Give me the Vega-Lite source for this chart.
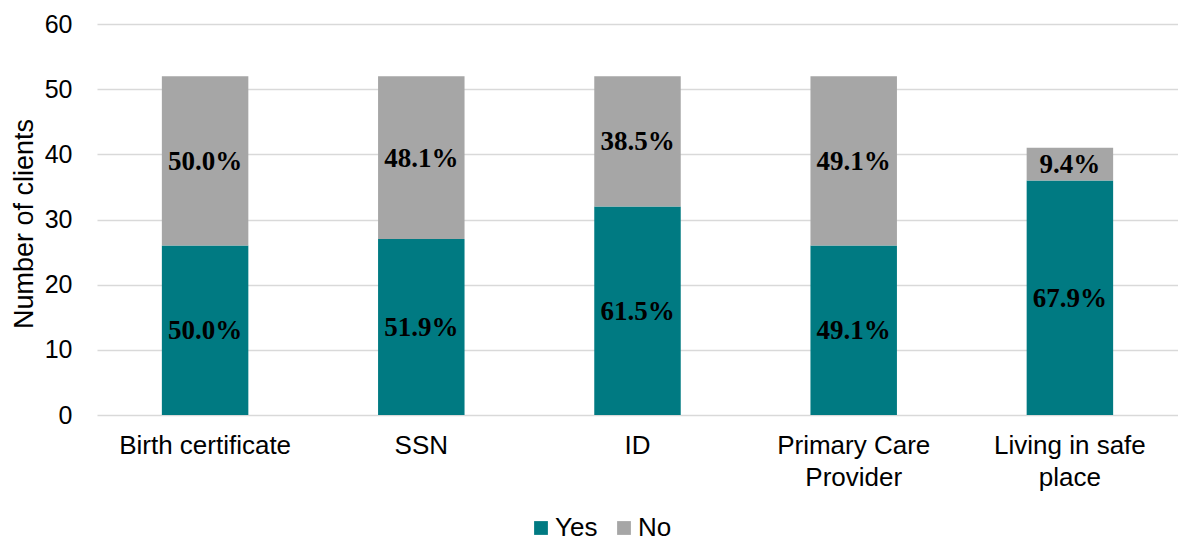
{
  "$schema": "https://vega.github.io/schema/vega-lite/v6.json",
  "width": 1081,
  "height": 391,
  "autosize": {"type": "none"},
  "padding": {"left": 97, "top": 24, "right": 0, "bottom": 126},
  "background": "white",
  "config": {
    "view": {"stroke": null},
    "font": "Liberation Sans",
    "axis": {"labelFont": "Liberation Sans", "titleFont": "Liberation Sans", "labelColor": "#000000", "titleColor": "#000000"},
    "legend": {"labelFont": "Liberation Sans", "labelColor": "#000000"}
  },
  "data": {
    "values": [
      {"item": "Birth certificate", "answer": "Yes", "ord": 1, "clients": 26, "share": "50.0%"},
      {"item": "Birth certificate", "answer": "No", "ord": 2, "clients": 26, "share": "50.0%"},
      {"item": "SSN", "answer": "Yes", "ord": 1, "clients": 27, "share": "51.9%"},
      {"item": "SSN", "answer": "No", "ord": 2, "clients": 25, "share": "48.1%"},
      {"item": "ID", "answer": "Yes", "ord": 1, "clients": 32, "share": "61.5%"},
      {"item": "ID", "answer": "No", "ord": 2, "clients": 20, "share": "38.5%"},
      {"item": "Primary Care Provider", "answer": "Yes", "ord": 1, "clients": 26, "share": "49.1%"},
      {"item": "Primary Care Provider", "answer": "No", "ord": 2, "clients": 26, "share": "49.1%"},
      {"item": "Living in safe place", "answer": "Yes", "ord": 1, "clients": 36, "share": "67.9%"},
      {"item": "Living in safe place", "answer": "No", "ord": 2, "clients": 5, "share": "9.4%"}
    ]
  },
  "transform": [
    {"stack": "clients", "groupby": ["item"], "sort": [{"field": "ord", "order": "ascending"}], "as": ["lo", "hi"]}
  ],
  "encoding": {
    "x": {
      "field": "item",
      "type": "nominal",
      "sort": ["Birth certificate", "SSN", "ID", "Primary Care Provider", "Living in safe place"],
      "scale": {"paddingInner": 0.6, "paddingOuter": 0.3},
      "axis": {
        "title": null,
        "labelAngle": 0,
        "labelFontSize": 26,
        "labelPadding": 17,
        "labelLineHeight": 32,
        "ticks": false,
        "tickSize": 0,
        "domain": false,
        "labelExpr": "datum.label == 'Primary Care Provider' ? ['Primary Care', 'Provider'] : datum.label == 'Living in safe place' ? ['Living in safe', 'place'] : datum.label"
      }
    }
  },
  "layer": [
    {
      "mark": {"type": "bar"},
      "encoding": {
        "y": {
          "field": "hi",
          "type": "quantitative",
          "scale": {"domain": [0, 60]},
          "axis": {
            "title": "Number of clients",
            "titleFontSize": 27,
            "titleFontWeight": "normal",
            "titleX": -65,
            "titleY": 199.5,
            "titleBaseline": "alphabetic",
            "values": [0, 10, 20, 30, 40, 50, 60],
            "labelFontSize": 25,
            "labelPadding": 25,
            "ticks": false,
            "tickSize": 0,
            "domain": false,
            "grid": true,
            "gridColor": "#D9D9D9",
            "gridWidth": 1.5
          }
        },
        "y2": {"field": "lo"},
        "color": {
          "field": "answer",
          "type": "nominal",
          "scale": {"domain": ["Yes", "No"], "range": ["#007A82", "#A6A6A6"]},
          "legend": {
            "title": null,
            "orient": "none",
            "direction": "horizontal",
            "legendX": 431,
            "legendY": 491,
            "symbolType": "square",
            "symbolSize": 190,
            "symbolStrokeWidth": 0,
            "labelFontSize": 26,
            "labelOffset": 1,
            "columnPadding": 13
          }
        }
      }
    },
    {
      "transform": [
        {"fold": ["lo", "hi"], "as": ["edge", "level"]}
      ],
      "mark": {"type": "text", "font": "Liberation Serif", "fontWeight": "bold", "fontSize": 27, "color": "#000000", "baseline": "middle", "align": "center", "dy": 1},
      "encoding": {
        "y": {"field": "level", "type": "quantitative", "aggregate": "mean"},
        "detail": {"field": "answer", "type": "nominal"},
        "text": {"field": "share", "type": "nominal"}
      }
    }
  ]
}
